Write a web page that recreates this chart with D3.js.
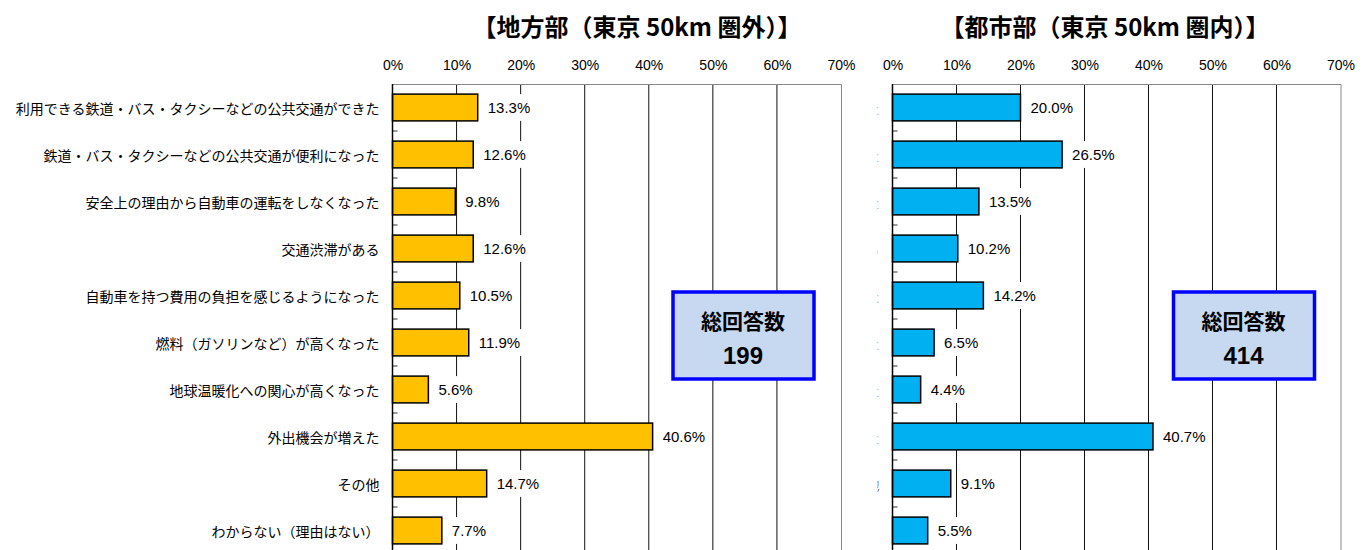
<!DOCTYPE html>
<html>
<head>
<meta charset="utf-8">
<script src="https://cdn.jsdelivr.net/npm/d3@7"></script>
<style>
  body { margin: 0; background: #fff; }
  svg { display: block; }
</style>
</head>
<body>
<svg id="chart" width="1371" height="550"></svg>
<script>
// 回答項目
const categories = [
  '利用できる鉄道・バス・タクシーなどの公共交通ができた',
  '鉄道・バス・タクシーなどの公共交通が便利になった',
  '安全上の理由から自動車の運転をしなくなった',
  '交通渋滞がある',
  '自動車を持つ費用の負担を感じるようになった',
  '燃料（ガソリンなど）が高くなった',
  '地球温暖化への関心が高くなった',
  '外出機会が増えた',
  'その他',
  'わからない（理由はない）'
];

// 地方部 / 都市部 の割合(%)
const ruralValues = [13.3, 12.6, 9.8, 12.6, 10.5, 11.9, 5.6, 40.6, 14.7, 7.7];
const urbanValues = [20.0, 26.5, 13.5, 10.2, 14.2, 6.5, 4.4, 40.7, 9.1, 5.5];

const panelTitles = ['【地方部（東京 50km 圏外）】', '【都市部（東京 50km 圏内）】'];
const totalCounts = [199, 414];
const xTicks = [0, 10, 20, 30, 40, 50, 60, 70];

const JP = '"Noto Sans CJK JP", "Noto Sans", sans-serif';
const NUM = '"Liberation Sans", Arial, sans-serif';

const svg = d3.select('#chart');

function drawPanel(opt) {
  const x = d3.scaleLinear().domain([0, 70]).range([opt.x0, opt.x1]);
  const y = d3.scaleBand().domain(categories).range([84, 554])
    .paddingInner(0.43).paddingOuter(0.215);
  const g = svg.append('g');

  // タイトル
  g.append('text')
    .attr('x', opt.titleX).attr('y', 25)
    .attr('text-anchor', 'middle').attr('dominant-baseline', 'central')
    .attr('font-family', JP).attr('font-weight', 'bold').attr('font-size', 24)
    .text(opt.title);

  // 目盛線
  g.selectAll('line.grid')
    .data(xTicks.slice(1, -1))
    .enter().append('line')
    .attr('class', 'grid')
    .attr('x1', d => x(d)).attr('x2', d => x(d))
    .attr('y1', 84).attr('y2', 554)
    .attr('stroke', '#111').attr('stroke-width', 1);

  // 上・右の枠
  g.append('path')
    .attr('d', `M${x(0)},84.5H${x(70) + 0.5}V554`)
    .attr('fill', 'none').attr('stroke', '#888').attr('stroke-width', 1);

  // 上部の目盛ラベル
  const axis = d3.axisTop(x).tickValues(xTicks).tickSize(0).tickPadding(14)
    .tickFormat(d => d + '%');
  const ax = g.append('g').attr('transform', 'translate(0,84)').call(axis);
  ax.select('.domain').remove();
  ax.selectAll('text').attr('font-family', NUM).attr('font-size', 14).attr('fill', '#000');

  // 棒
  g.selectAll('rect.bar')
    .data(opt.values)
    .enter().append('rect')
    .attr('class', 'bar')
    .attr('x', x(0))
    .attr('y', (d, i) => y(categories[i]))
    .attr('width', d => x(d) - x(0))
    .attr('height', y.bandwidth())
    .attr('fill', opt.color)
    .attr('stroke', '#000').attr('stroke-width', 1.5);

  // 値ラベル(白背景つき)
  const lab = g.selectAll('g.lab')
    .data(opt.values)
    .enter().append('g')
    .attr('class', 'lab');
  const bg = lab.append('rect').attr('fill', '#fff');
  const txt = lab.append('text')
    .attr('x', d => x(d) + 10)
    .attr('y', (d, i) => y(categories[i]) + y.bandwidth() / 2)
    .attr('dominant-baseline', 'central')
    .attr('font-family', NUM).attr('font-size', 15)
    .text(d => d.toFixed(1) + '%');
  txt.each(function (d, i) {
    const w = this.getComputedTextLength();
    d3.select(bg.nodes()[i])
      .attr('x', x(d) + 7).attr('width', w + 6)
      .attr('y', y(categories[i])).attr('height', y.bandwidth());
  });

  // 左軸と補助目盛
  const bounds = d3.range(1, categories.length).map(i => y.range()[0] + i * y.step());
  g.selectAll('line.minor')
    .data(bounds)
    .enter().append('line')
    .attr('class', 'minor')
    .attr('x1', x(0)).attr('x2', x(0) + 5)
    .attr('y1', d => d).attr('y2', d => d)
    .attr('stroke', '#777').attr('stroke-width', 1.5);
  g.append('line')
    .attr('x1', x(0)).attr('x2', x(0))
    .attr('y1', 84).attr('y2', 554)
    .attr('stroke', '#000').attr('stroke-width', 1.5);

  // 項目ラベル(右側パネルは見切れた末尾だけが残る)
  const clipId = 'clip' + opt.index;
  if (opt.clipLabels) {
    svg.append('clipPath').attr('id', clipId)
      .append('rect').attr('x', x(0) - 15).attr('width', 2.5).attr('y', 0).attr('height', 550);
  }
  const cat = g.append('g');
  if (opt.clipLabels) cat.attr('clip-path', `url(#${clipId})`);
  cat.selectAll('text')
    .data(categories)
    .enter().append('text')
    .attr('x', x(0) - 13)
    .attr('y', d => y(d) + y.bandwidth() / 2)
    .attr('text-anchor', 'end').attr('dominant-baseline', 'central')
    .attr('font-family', JP).attr('font-size', 14)
    .attr('fill', opt.clipLabels ? '#666' : '#000')
    .text(d => opt.clipLabels ? d.slice(-1) : d);

  // 総回答数ボックス
  const box = g.append('g');
  box.append('rect')
    .attr('x', opt.boxX - 70).attr('y', 292)
    .attr('width', 141).attr('height', 87)
    .attr('fill', '#C6D9F1').attr('stroke', '#0000FF').attr('stroke-width', 3.5);
  box.append('text')
    .attr('x', opt.boxX).attr('y', 320)
    .attr('text-anchor', 'middle').attr('dominant-baseline', 'central')
    .attr('font-family', JP).attr('font-weight', 'bold').attr('font-size', 21)
    .text('総回答数');
  box.append('text')
    .attr('x', opt.boxX).attr('y', 355)
    .attr('text-anchor', 'middle').attr('dominant-baseline', 'central')
    .attr('font-family', NUM).attr('font-weight', 'bold').attr('font-size', 24)
    .text(opt.total);
}

drawPanel({ index: 0, x0: 392.5, x1: 841, title: panelTitles[0], titleX: 637,
  values: ruralValues, color: '#FFC000', total: totalCounts[0], boxX: 743, clipLabels: false });
drawPanel({ index: 1, x0: 892.5, x1: 1340.5, title: panelTitles[1], titleX: 1105,
  values: urbanValues, color: '#00B0F0', total: totalCounts[1], boxX: 1243.5, clipLabels: true });
</script>
</body>
</html>
